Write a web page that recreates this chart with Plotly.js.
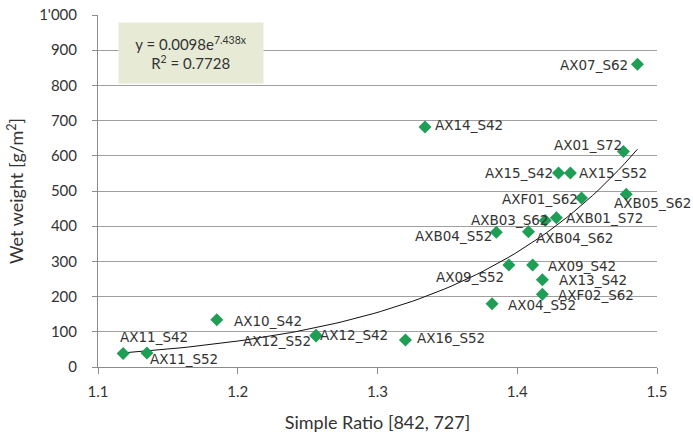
<!DOCTYPE html>
<html>
<head>
<meta charset="utf-8">
<script src="https://cdn.plot.ly/plotly-3.0.1.min.js"></script>
<style>html,body{margin:0;padding:0;background:#fff;}#chart{width:693px;height:439px;}</style>
</head>
<body>
<div id="chart"></div>
<script>
// ---- data ----
const sampleNames = ["AX07_S62","AX14_S42","AX01_S72","AX15_S42","AX15_S52","AXF01_S62","AXB05_S62","AXB03_S62","AXB01_S72","AXB04_S52","AXB04_S62","AX09_S52","AX09_S42","AX13_S42","AXF02_S62","AX04_S52","AX16_S52","AX10_S42","AX11_S42","AX11_S52","AX12_S52","AX12_S42"];
const simpleRatio = [1.486,1.334,1.476,1.4295,1.438,1.446,1.478,1.420,1.428,1.385,1.408,1.394,1.411,1.418,1.418,1.382,1.320,1.185,1.118,1.135,1.256,1.256];
const wetWeight   = [860,682,612,551,551,480,491,416,424,383,384,290,290,248,207,180,77,134,38,40,88,90];
// exponential trendline coefficients shown on the chart
const trendA = 0.0098;
const trendB = 7.438;
const rSquared = 0.7728;
const xTickVals = [1.1,1.2,1.3,1.4,1.5];
const yTickVals = [0,100,200,300,400,500,600,700,800,900,1000];

// ---- label placement (style only) ----
const labelAnchor = ["right","left","right","right","left","right","left","right","left","right","left","right","left","left","left","left","left","left","left","left","right","left"];
const labelDx = [-8,9,0,-4,8,-3,-13,4,9,-3,7,-4,14,16,15,15,11,16,-4,2,-4,3];
const labelDy = [-1,2,7,0,0,-1,-9,1,0,-4,-6,-12,-1,0,-1,-1,2,-1,17,-6,-5,0];

// trendline evaluated across data range
const xMin = Math.min(...simpleRatio), xMax = Math.max(...simpleRatio);
const trendX = [], trendY = [];
for (let i = 0; i <= 80; i++) {
  const x = xMin + (xMax - xMin) * i / 80;
  trendX.push(x);
  trendY.push(trendA * Math.exp(trendB * x));
}

const traces = [
  {x: trendX, y: trendY, mode: "lines", type: "scatter", line: {color: "#111", width: 1}, hoverinfo: "skip", showlegend: false},
  {x: simpleRatio, y: wetWeight, mode: "markers", type: "scatter",
   marker: {symbol: "diamond", size: 10, color: "#1f9e55"}, showlegend: false}
];

const labelFont = {family: "DejaVu Sans", size: 13.5, color: "#333"};
const annotations = sampleNames.map((n, i) => ({
  x: simpleRatio[i], y: wetWeight[i], xref: "x", yref: "y", text: n, showarrow: false,
  xanchor: labelAnchor[i], yanchor: "middle", xshift: labelDx[i], yshift: labelDy[i],
  font: labelFont, borderpad: 0
}));
annotations.push({
  xref: "paper", yref: "paper", x: (118 - 98) / 559, y: (367 - 22) / 352,
  xanchor: "left", yanchor: "top", showarrow: false,
  text: "y = " + trendA.toFixed(4) + "e<sup>" + trendB.toFixed(3) + "x</sup><br>R<sup>2</sup> = " + rSquared.toFixed(4),
  font: {family: "Lato", size: 15, color: "#333"}, bgcolor: "#e7ebd6", width: 142, height: 58, align: "center", valign: "middle"
});

const layout = {
  width: 693, height: 439,
  margin: {l: 98, r: 36, t: 15, b: 72},
  paper_bgcolor: "#fff", plot_bgcolor: "#fff",
  separators: ".'",
  showlegend: false,
  xaxis: {
    range: [1.1, 1.5], tickvals: xTickVals, tickformat: ".1f",
    showgrid: false, zeroline: false, showline: true, linecolor: "#8c8c8c", linewidth: 1,
    ticks: "outside", ticklen: 6, tickcolor: "#8c8c8c", ticklabelstandoff: 5,
    tickfont: {family: "Lato", size: 15, color: "#333"},
    title: {text: "Simple Ratio [842, 727]", font: {family: "Lato", size: 18, color: "#333"}, standoff: 17}
  },
  yaxis: {
    range: [0, 1000], tickvals: yTickVals, tickformat: ",d",
    showgrid: true, gridcolor: "#a0a0a0", gridwidth: 1, zeroline: false,
    showline: true, linecolor: "#8c8c8c", linewidth: 1,
    ticks: "outside", ticklen: 5, tickcolor: "#8c8c8c", ticklabelstandoff: 12,
    tickfont: {family: "Lato", size: 15, color: "#333"},
    title: {text: "Wet weight [g/m<sup>2</sup>]", font: {family: "Lato", size: 18, color: "#333"}, standoff: 10}
  },
  annotations: annotations
};

Plotly.newPlot("chart", traces, layout, {displayModeBar: false, staticPlot: true});
</script>
</body>
</html>
